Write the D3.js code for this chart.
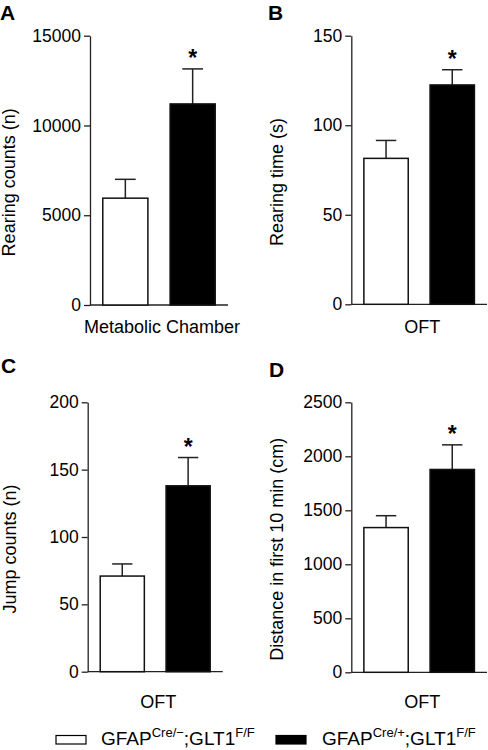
<!DOCTYPE html>
<html>
<head>
<meta charset="utf-8">
<script src="https://cdn.jsdelivr.net/npm/d3@7"></script>
<style>
  html, body { margin: 0; padding: 0; background: #fff; }
  svg { display: block; }
  text { font-family: "Liberation Sans", Arial, sans-serif; fill: #000; }
</style>
</head>
<body>
<svg id="chart" width="488" height="750"></svg>
<script>
// ---- Data ----
const groups = ["GFAPCre/-;GLT1F/F", "GFAPCre/+;GLT1F/F"];
const groupFills = ["#ffffff", "#000000"];

const rearingCountsMean = [5950, 11200];
const rearingCountsSEM  = [1050, 1950];
const rearingCountsTicks = [0, 5000, 10000, 15000];

const rearingTimeMean = [81.5, 122.5];
const rearingTimeSEM  = [10, 8.5];
const rearingTimeTicks = [0, 50, 100, 150];

const jumpCountsMean = [71, 138];
const jumpCountsSEM  = [9, 21];
const jumpCountsTicks = [0, 50, 100, 150, 200];

const distanceMean = [1340, 1878];
const distanceSEM  = [110, 228];
const distanceTicks = [0, 500, 1000, 1500, 2000, 2500];

const panelLetters = ["A", "B", "C", "D"];
const yTitles = ["Rearing counts (n)", "Rearing time (s)", "Jump counts (n)", "Distance in first 10 min (cm)"];
const xTitles = ["Metabolic Chamber", "OFT", "OFT", "OFT"];
const significant = [[false, true], [false, true], [false, true], [false, true]];

// ---- Layout ----
const svg = d3.select("#chart");
const panels = [
  { mean: rearingCountsMean, sem: rearingCountsSEM, ticks: rearingCountsTicks,
    left: 90, right: 228, top: 35.7, bottom: 305, letterX: 0, letterY: 20,
    titleX: 15, xTitleY: 333 },
  { mean: rearingTimeMean, sem: rearingTimeSEM, ticks: rearingTimeTicks,
    left: 351.3, right: 487, top: 35.7, bottom: 304.3, letterX: 268, letterY: 20,
    titleX: 283, xTitleY: 333 },
  { mean: jumpCountsMean, sem: jumpCountsSEM, ticks: jumpCountsTicks,
    left: 87.7, right: 222.7, top: 402.3, bottom: 671.7, letterX: 1, letterY: 373,
    titleX: 15.5, xTitleY: 708 },
  { mean: distanceMean, sem: distanceSEM, ticks: distanceTicks,
    left: 351.3, right: 487, top: 402.3, bottom: 672.3, letterX: 269, letterY: 377,
    titleX: 283, xTitleY: 708 }
];

panels.forEach((p, i) => {
  const g = svg.append("g");
  const y = d3.scaleLinear()
    .domain([0, p.ticks[p.ticks.length - 1]])
    .range([p.bottom, p.top]);
  const x = d3.scaleBand()
    .domain(groups)
    .range([p.left, p.right])
    .paddingInner(0.33)
    .paddingOuter(0.19);

  // y axis
  const yAxis = g.append("g")
    .attr("transform", `translate(${p.left},0)`)
    .call(d3.axisLeft(y).tickValues(p.ticks).tickFormat(d3.format("d")).tickSize(6).tickPadding(3).tickSizeOuter(0));
  yAxis.select(".domain").attr("stroke", "#222").attr("stroke-width", 1.3);
  yAxis.selectAll(".tick line").attr("stroke", "#222").attr("stroke-width", 1.3);
  yAxis.selectAll(".tick text")
    .style("font-family", '"Liberation Sans", Arial, sans-serif')
    .style("font-size", "17.5px").attr("fill", "#000");

  // x axis baseline
  g.append("line")
    .attr("x1", p.left).attr("x2", p.right)
    .attr("y1", y(0)).attr("y2", y(0))
    .attr("stroke", "#222").attr("stroke-width", 1.3);

  // error bars (upper only)
  const eb = g.selectAll(".eb").data(groups).enter().append("g");
  eb.append("line")
    .attr("x1", d => x(d) + x.bandwidth() / 2)
    .attr("x2", d => x(d) + x.bandwidth() / 2)
    .attr("y1", (d, j) => y(p.mean[j]))
    .attr("y2", (d, j) => y(p.mean[j] + p.sem[j]))
    .attr("stroke", "#222").attr("stroke-width", 1.5);
  eb.append("line")
    .attr("x1", d => x(d) + x.bandwidth() / 2 - x.bandwidth() * 0.23)
    .attr("x2", d => x(d) + x.bandwidth() / 2 + x.bandwidth() * 0.23)
    .attr("y1", (d, j) => y(p.mean[j] + p.sem[j]))
    .attr("y2", (d, j) => y(p.mean[j] + p.sem[j]))
    .attr("stroke", "#222").attr("stroke-width", 1.5);

  // bars
  g.selectAll(".bar").data(groups).enter().append("rect")
    .attr("x", d => x(d))
    .attr("width", x.bandwidth())
    .attr("y", (d, j) => y(p.mean[j]))
    .attr("height", (d, j) => y(0) - y(p.mean[j]))
    .attr("fill", (d, j) => groupFills[j])
    .attr("stroke", "#111").attr("stroke-width", 1.5);

  // significance stars
  groups.forEach((d, j) => {
    if (significant[i][j]) {
      g.append("text")
        .attr("x", x(d) + x.bandwidth() / 2)
        .attr("y", y(p.mean[j] + p.sem[j]) - 2.5)
        .attr("text-anchor", "middle")
        .style("font-size", "23px").style("font-weight", "bold")
        .text("*");
    }
  });

  // y title
  g.append("text")
    .attr("transform", `translate(${p.titleX},${(p.top + p.bottom) / 2 + 12}) rotate(-90)`)
    .attr("text-anchor", "middle")
    .style("font-size", "18px")
    .text(yTitles[i]);

  // x title
  g.append("text")
    .attr("x", (p.left + p.right) / 2 + 3)
    .attr("y", p.xTitleY)
    .attr("text-anchor", "middle")
    .style("font-size", "18px")
    .text(xTitles[i]);

  // panel letter
  g.append("text")
    .attr("x", p.letterX).attr("y", p.letterY)
    .style("font-size", "21px").style("font-weight", "bold")
    .text(panelLetters[i]);
});

// ---- Legend ----
const legend = svg.append("g");
const legendItems = [
  { fill: groupFills[0], rx: 56, tx: 101, sup1: "Cre/\u2212" },
  { fill: groupFills[1], rx: 276, tx: 322, sup1: "Cre/+" }
];
legendItems.forEach(it => {
  legend.append("rect")
    .attr("x", it.rx).attr("y", 735.5).attr("width", 30).attr("height", 8.5)
    .attr("fill", it.fill).attr("stroke", "#000").attr("stroke-width", 1.2);
  const t = legend.append("text")
    .attr("x", it.tx).attr("y", 745)
    .style("font-size", "19px");
  t.append("tspan").text("GFAP");
  t.append("tspan").attr("dy", -8.5).style("font-size", "13px").text(it.sup1);
  t.append("tspan").attr("dy", 8.5).text(";GLT1");
  t.append("tspan").attr("dy", -8.5).style("font-size", "13px").text("F/F");
});
</script>
</body>
</html>
